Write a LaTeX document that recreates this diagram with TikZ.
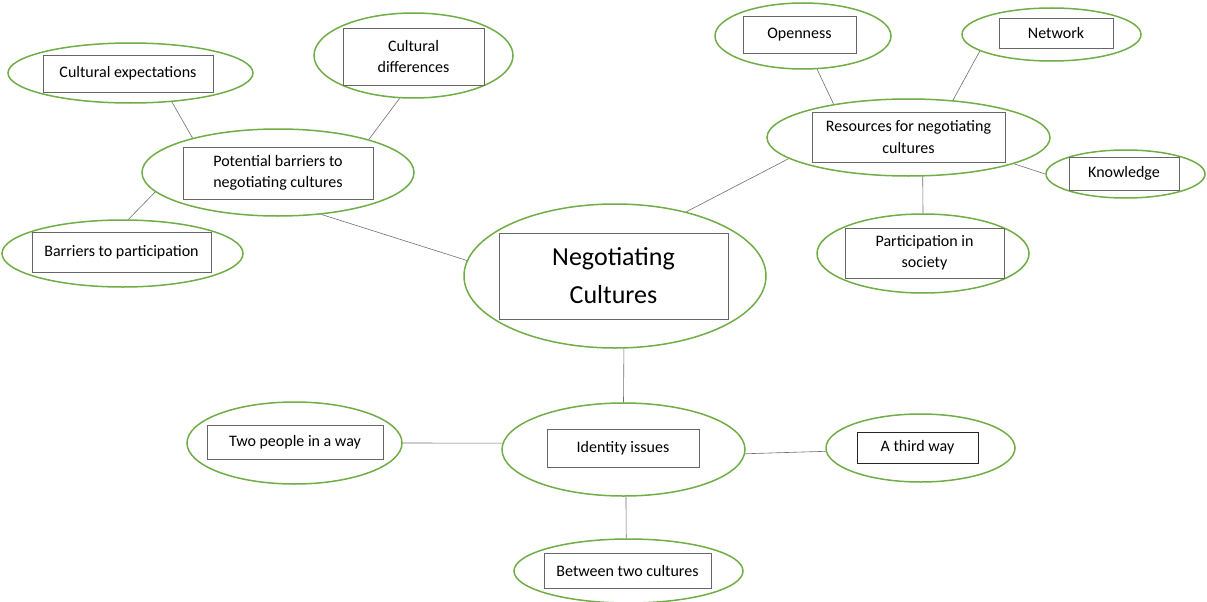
\documentclass[tikz,border=0pt]{standalone}
\usepackage{fontspec}
\setmainfont{Carlito}
\usepackage{tikz}
\usetikzlibrary{shapes,positioning}
\definecolor{leaf}{RGB}{112, 173, 71}
\definecolor{edgegray}{RGB}{110, 110, 110}
\tikzstyle{bubble} = [ellipse, draw=leaf, line width=1.5pt, fill=none, inner sep=0pt]
\tikzstyle{tag} = [rectangle, draw=black!60, line width=0.7pt, fill=none, text=black, align=center, inner sep=0pt, font=\fontsize{16}{21.5}\selectfont]
\tikzstyle{bigtag} = [tag, font=\fontsize{26}{38}\selectfont]
\tikzstyle{link} = [draw=edgegray, line width=0.6pt]

\begin{document}
\begin{tikzpicture}[x=1pt, y=-1pt]
\useasboundingbox (0,0) rectangle (1207,602);

% bubbles =============================

% centre
\node[bubble, minimum width=302pt, minimum height=144pt] (centre) at (615,276) {};
\node[bigtag, minimum width=229pt, minimum height=86pt] (centretxt) at (613.5,276) {Negotiating\\Cultures};

% barriers
\node[bubble, minimum width=272pt, minimum height=87pt] (barriers) at (278,172.5) {};
\node[tag, minimum width=190pt, minimum height=52pt] (barrierstxt) at (278,173) {Potential barriers to\\negotiating cultures};

\node[bubble, minimum width=245pt, minimum height=60pt] (expect) at (130.5,73) {};
\node[tag, minimum width=170pt, minimum height=37pt] (expecttxt) at (128,73.5) {Cultural expectations};

\node[bubble, minimum width=199pt, minimum height=85pt] (differ) at (413.5,55.5) {};
\node[tag, minimum width=141pt, minimum height=57pt] (differtxt) at (413.5,56.5) {Cultural\\differences};

\node[bubble, minimum width=241pt, minimum height=67pt] (particip) at (122.5,253.5) {};
\node[tag, minimum width=179pt, minimum height=40pt] (participtxt) at (121.5,252) {Barriers to participation};

% resources
\node[bubble, minimum width=283pt, minimum height=77pt] (resources) at (908.5,137.5) {};
\node[tag, minimum width=193pt, minimum height=50pt] (resourcestxt) at (908.5,137) {Resources for negotiating\\cultures};

\node[bubble, minimum width=176pt, minimum height=66pt] (open) at (803,36) {};
\node[tag, minimum width=113pt, minimum height=37pt] (opentxt) at (799.5,34.5) {Openness};

\node[bubble, minimum width=179pt, minimum height=53pt] (network) at (1051.5,34.5) {};
\node[tag, minimum width=114pt, minimum height=30pt] (networktxt) at (1056,33) {Network};

\node[bubble, minimum width=159pt, minimum height=48pt] (know) at (1125.5,174) {};
\node[tag, minimum width=110pt, minimum height=33pt] (knowtxt) at (1124,173.5) {Knowledge};

\node[bubble, minimum width=212pt, minimum height=79pt] (society) at (923,253.5) {};
\node[tag, minimum width=159pt, minimum height=50pt] (societytxt) at (924.5,253) {Participation in\\society};

% identity
\node[bubble, minimum width=243pt, minimum height=93pt] (identity) at (623.5,449.5) {};
\node[tag, minimum width=152pt, minimum height=38pt] (identitytxt) at (623,448) {Identity issues};

\node[bubble, minimum width=215pt, minimum height=82pt] (twopeople) at (294.5,443) {};
\node[tag, minimum width=176pt, minimum height=34pt] (twopeopletxt) at (295,442) {Two people in a way};

\node[bubble, minimum width=189pt, minimum height=68pt] (third) at (920.5,448) {};
\node[tag, draw=black!85, minimum width=121pt, minimum height=31pt] (thirdtxt) at (917.5,447.5) {A third way};

\node[bubble, minimum width=229pt, minimum height=64pt] (between) at (628.5,571) {};
\node[tag, minimum width=167pt, minimum height=35pt] (betweentxt) at (627.5,570.5) {Between two cultures};

% edges =============================

\path[link] (centre.174.7) -- (barriers.-44);
\path[link] (centre.42) -- (resources.190.8);
\path[link] (centre.-83) -- (identity.90);

\path[link] (barriers.158) -- (expect.-35);
\path[link] (barriers.20.4) -- (differ.-108.4);
\path[link] (barriers.189.5) -- (particip.80.7);

\path[link] (resources.156.2) -- (open.-67);
\path[link] (resources.40.8) -- (network.193.4);
\path[link] (resources.-14.4) -- (know.180.7);
\path[link] (resources.-70.2) -- (society.90);

\path[link] (identity.177.4) -- (twopeople.0.5);
\path[link] (identity.-2.6) -- (third.182.4);
\path[link] (identity.-87) -- (between.94.5);

\end{tikzpicture}
\end{document}
